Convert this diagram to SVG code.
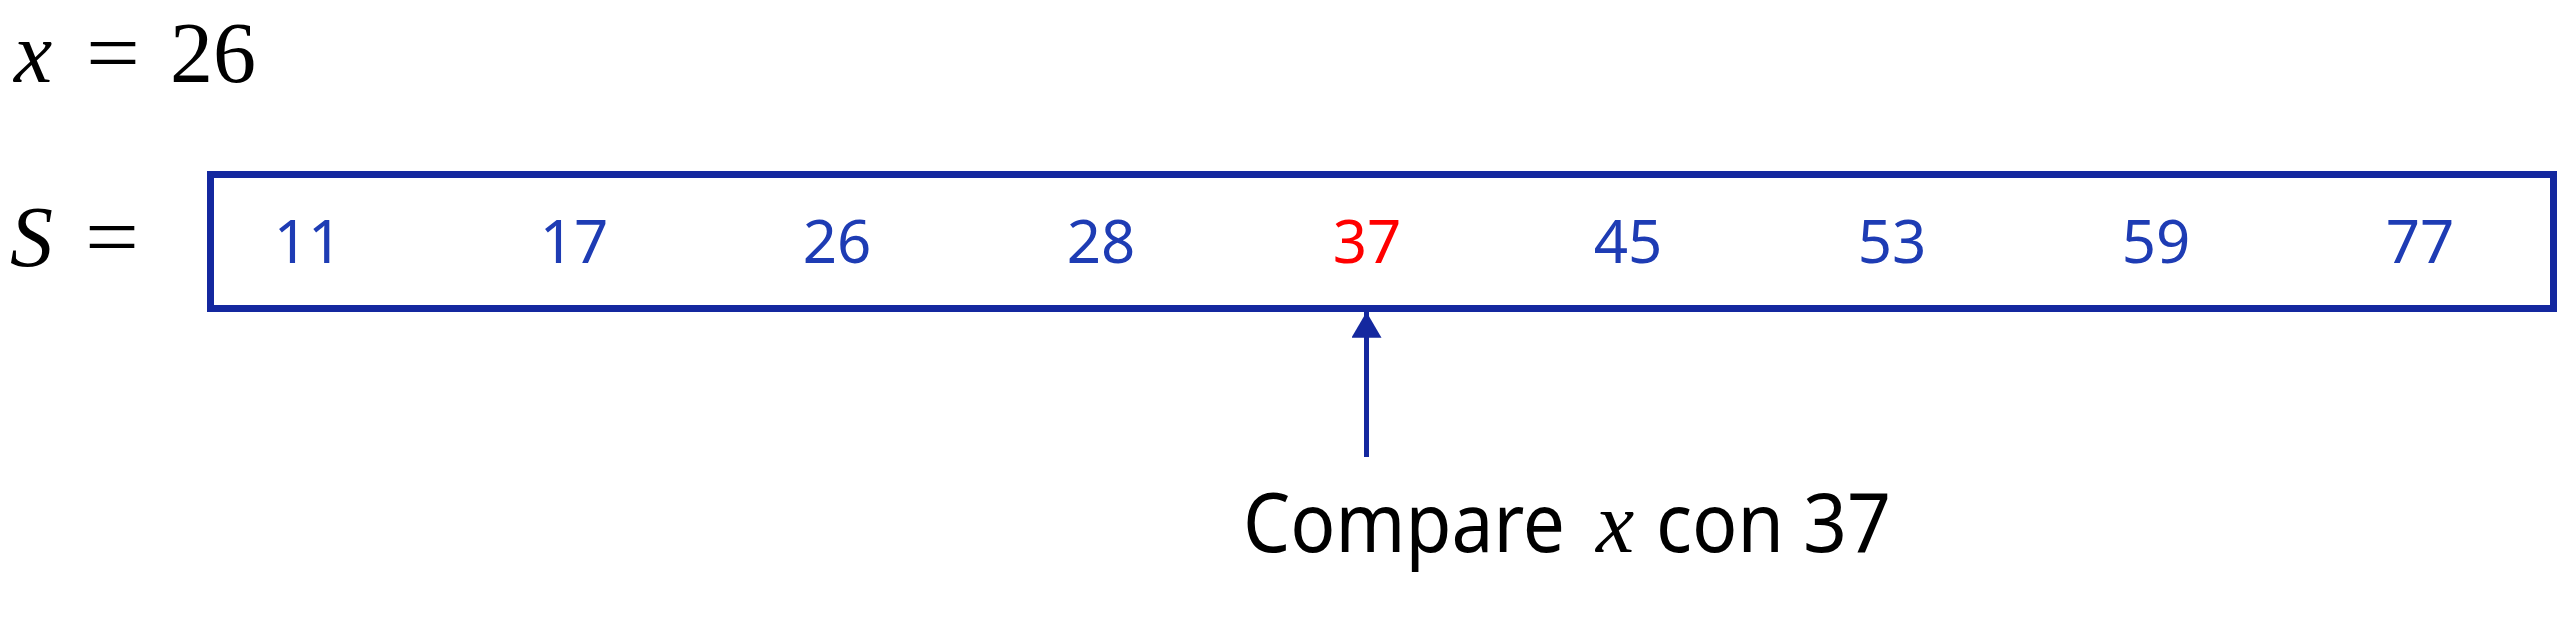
<svg xmlns="http://www.w3.org/2000/svg" width="2557" height="623" viewBox="0 0 2557 623">
<style>
.math{font-family:"Liberation Serif","DejaVu Serif",serif;font-size:86px;fill:#000}
.it{font-style:italic}
.num{font-family:"Noto Sans","Open Sans",sans-serif;font-size:60px;fill:#1E3CB4;text-anchor:middle}
.hl{fill:#FF0000}
.lbl{font-family:"Noto Sans","Open Sans",sans-serif;font-size:82px;fill:#000}
.box{fill:none;stroke:#14289F;stroke-width:7}
.conn{stroke:#14289F;stroke-width:5;fill:none}
</style>
<defs>
<marker id="ah" markerUnits="userSpaceOnUse" markerWidth="30" markerHeight="30" viewBox="0 0 24 28" refX="24" refY="14" orient="auto">
<path d="M0,0 L24,14 L0,28 Z" fill="#14289F"/>
</marker>
</defs>
<g id="x-def">
<text class="math it" x="14" y="82">x</text>
<text class="math" x="86" y="82" textLength="54" lengthAdjust="spacingAndGlyphs">=</text>
<text class="math" x="170" y="82">26</text>
</g>
<g id="s-label">
<text class="math it" x="10" y="266">S</text>
<text class="math" x="85" y="266" textLength="54" lengthAdjust="spacingAndGlyphs">=</text>
</g>
<g id="array">
<rect class="box" x="210.5" y="174.5" width="2343" height="134"/>
<text class="num" x="308" y="263">11</text>
<text class="num" x="574" y="263">17</text>
<text class="num" x="837" y="263">26</text>
<text class="num" x="1101" y="263">28</text>
<text class="num hl" x="1367" y="263">37</text>
<text class="num" x="1628" y="263">45</text>
<text class="num" x="1892" y="263">53</text>
<text class="num" x="2156" y="263">59</text>
<text class="num" x="2420" y="263">77</text>
</g>
<g id="connectors">
<line class="conn" x1="1366.5" y1="457" x2="1366.5" y2="312" marker-end="url(#ah)"/>
</g>
<g id="caption">
<text class="lbl" x="1243" y="552" textLength="322" lengthAdjust="spacingAndGlyphs">Compare</text>
<text class="math it" x="1596" y="552">x</text>
<text class="lbl" x="1656" y="552" textLength="128" lengthAdjust="spacingAndGlyphs">con</text>
<text class="lbl" x="1803" y="552" textLength="88" lengthAdjust="spacingAndGlyphs">37</text>
</g>
</svg>
